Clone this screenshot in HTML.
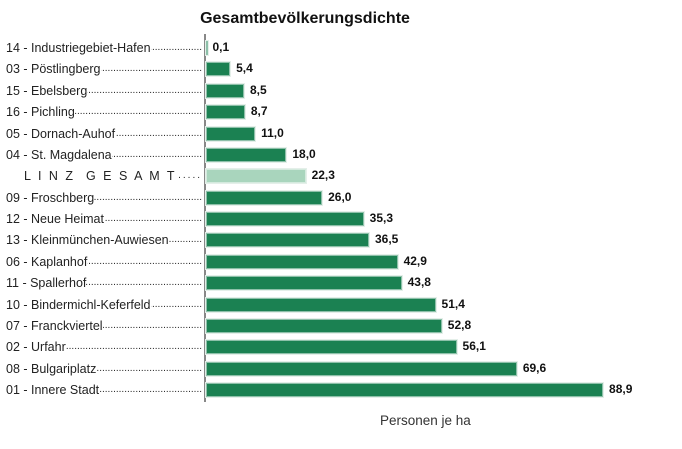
<!DOCTYPE html>
<html><head><meta charset="utf-8"><style>
body{margin:0;width:682px;height:449px;background:#fff;font-family:"Liberation Sans",sans-serif;position:relative;overflow:hidden}
.t{position:absolute;left:0;width:610px;text-align:center;top:10px;font-weight:bold;font-size:16px;color:#111}
.lab{position:absolute;left:6px;width:196px;height:18px;display:flex;font-size:12.5px;color:#222;white-space:nowrap;line-height:18px}
.lab .d{flex:1;overflow:hidden;text-align:right;direction:rtl;font-size:10px;padding-left:4px}
.bar{position:absolute;left:206px;height:14px;box-sizing:border-box;border:1px solid rgba(255,255,255,.5);box-shadow:0 0 0 1px #e4efe9}
.val{position:absolute;font-size:12px;font-weight:bold;color:#111;line-height:14px}
.ax{position:absolute;left:204px;top:34px;width:1.5px;height:368px;background:#888}
.xt{position:absolute;left:380px;top:413px;font-size:13.5px;color:#333}
</style></head><body>
<div class="t">Gesamtbevölkerungsdichte</div>
<div class="ax"></div>
<div class="xt">Personen je ha</div>
<div id="c"></div>
<script>
const categories=["14 - Industriegebiet-Hafen","03 - Pöstlingberg","15 - Ebelsberg","16 - Pichling","05 - Dornach-Auhof","04 - St. Magdalena","L I N Z  G E S A M T","09 - Froschberg","12 - Neue Heimat","13 - Kleinmünchen-Auwiesen","06 - Kaplanhof","11 - Spallerhof","10 - Bindermichl-Keferfeld","07 - Franckviertel","02 - Urfahr","08 - Bulgariplatz","01 - Innere Stadt"];
const values=[0.1,5.4,8.5,8.7,11.0,18.0,22.3,26.0,35.3,36.5,42.9,43.8,51.4,52.8,56.1,69.6,88.9];
const highlight=[false,false,false,false,false,false,true,false,false,false,false,false,false,false,false,false,false];
const c=document.getElementById('c');
const x=v=>v*4.466, y=i=>48+i*21.375;
categories.forEach((n,i)=>{
 const l=document.createElement('div');l.className='lab';
 
 
 l.style.top=(y(i)-9)+'px';
 if(highlight[i]){l.style.paddingLeft='18px';l.style.width='178px';l.style.letterSpacing='2px';}
 l.innerHTML='<span>'+n.replace(/  /g,'&nbsp;&nbsp;')+'</span><span class="d">'+'.'.repeat(80)+'</span>';
 c.appendChild(l);
 const b=document.createElement('div');b.className='bar';
 
 
 b.style.top=(y(i)-7)+'px';b.style.width=Math.max(1,x(values[i]))+'px';
 b.style.background=highlight[i]?'#a9d5bd':'#1b8152';
 c.appendChild(b);
 const t=document.createElement('div');t.className='val';
 
 
 t.style.top=(y(i)-8)+'px';t.style.left=(206+x(values[i])+6)+'px';
 t.textContent=values[i].toFixed(1).replace('.',',');
 c.appendChild(t);
});
</script>
</body></html>
